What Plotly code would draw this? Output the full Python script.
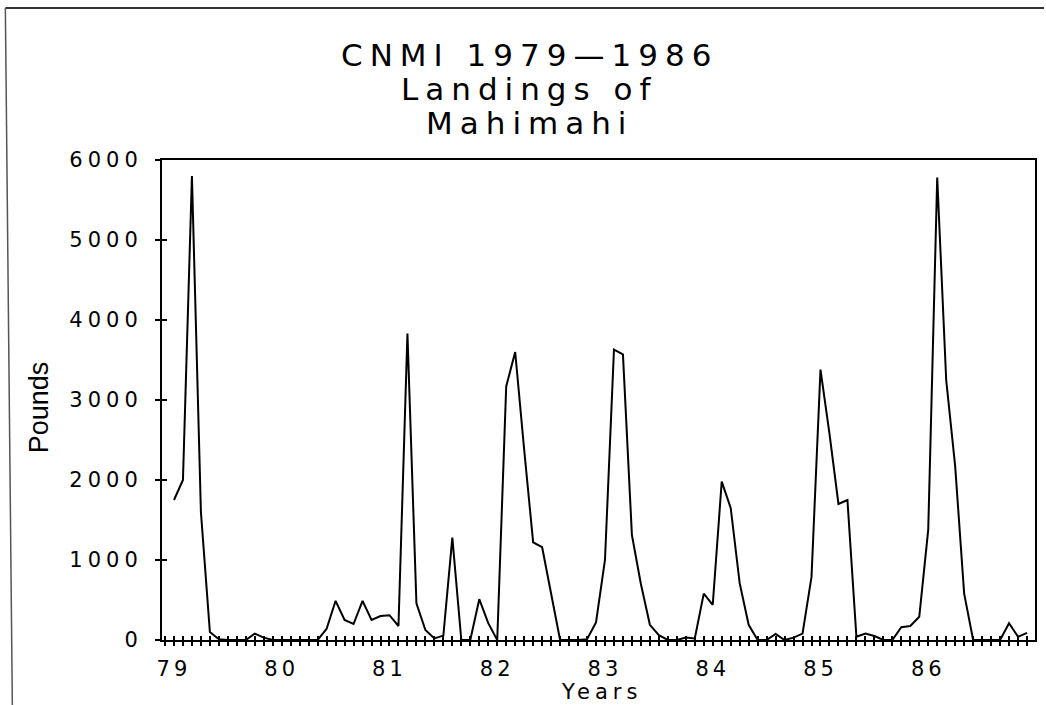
import plotly.graph_objects as go

# ---- data (monthly landings, Jan 1979 .. Dec 1986) ----
start_year = 79
pounds = [
    1750, 2000, 5800, 1600, 100, 10, 0, 0, 0, 80, 30, 0,          # 1979
    0, 0, 0, 0, 0, 140, 490, 250, 200, 490, 250, 300,            # 1980
    310, 175, 3830, 460, 125, 20, 55, 1280, 0, 0, 510, 210,      # 1981
    0, 3170, 3600, 2380, 1220, 1160, 580, 0, 0, 0, 10, 220,      # 1982
    1000, 3630, 3570, 1310, 700, 190, 60, 0, 0, 30, 20, 580,     # 1983
    440, 1980, 1650, 710, 190, 0, 0, 75, 0, 30, 80, 790,         # 1984
    3380, 2580, 1700, 1750, 40, 80, 50, 0, 0, 160, 175, 290,     # 1985
    1380, 5780, 3250, 2170, 580, 0, 0, 0, 0, 210, 40, 90,        # 1986
]
year_ticks = [79, 80, 81, 82, 83, 84, 85, 86]
year_labels = ["79", "80", "81", "82", "83", "84", "85", "86"]
pound_ticks = [0, 1000, 2000, 3000, 4000, 5000, 6000]
pound_labels = ["0", "1000", "2000", "3000", "4000", "5000", "6000"]
title_lines = ["CNMI 1979\u20141986", "Landings of", "Mahimahi"]
x_title = "Years"
y_title = "Pounds"

xs = [start_year + i / 12 for i in range(len(pounds))]

# ---- geometry ----
W, H = 1046, 705
L, R, T, B = 162, 9, 160, 65
PW, PH = W - L - R, H - T - B
X0, X1 = 79 - 1.3333 / 12, 79 + 95.889 / 12
FONT = "DejaVu Sans"


def px2x(px):
    return (px - L) / PW


def py2y(py):
    return (H - B - py) / PH


def spaced(t, s):
    return f'<span style="letter-spacing:{s}px">{t}</span>'


fig = go.Figure()
fig.add_trace(go.Scatter(
    x=xs, y=pounds, mode="lines",
    line=dict(color="black", width=2),
    showlegend=False, hoverinfo="x+y",
))
# companion (invisible) trace to host the inward tick axes
fig.add_trace(go.Scatter(
    x=xs, y=pounds, mode="lines", line=dict(width=0, color="rgba(0,0,0,0)"),
    xaxis="x2", yaxis="y2", showlegend=False, hoverinfo="skip",
))

tickfont = dict(family=FONT, size=21, color="black")
common_x = dict(range=[X0, X1], tickmode="array", tickvals=year_ticks,
                ticklen=4, tickwidth=1.5, tickcolor="black",
                showgrid=False, zeroline=False)
minor_x = dict(dtick=1 / 12, tick0=79, ticklen=4, tickwidth=1.5, tickcolor="black",
               showgrid=False)

fig.update_layout(
    width=W, height=H,
    margin=dict(l=L, r=R, t=T, b=B, pad=0),
    paper_bgcolor="white", plot_bgcolor="white",
    xaxis=dict(**common_x, ticks="outside",
               ticktext=[spaced(t, 4) for t in year_labels],
               tickfont=tickfont, ticklabelstandoff=5,
               minor=dict(**minor_x, ticks="outside"),
               showline=True, linecolor="black", linewidth=2, mirror=True),
    xaxis2=dict(**common_x, ticks="inside", overlaying="x", anchor="y2",
                showticklabels=False, showline=False,
                minor=dict(**minor_x, ticks="inside")),
    yaxis=dict(range=[0, 6000], tickmode="array", tickvals=pound_ticks,
               ticktext=[spaced(t, 5) for t in pound_labels],
               tickfont=tickfont, ticks="outside", ticklen=5, tickwidth=1.5,
               tickcolor="black", ticklabelstandoff=8,
               showgrid=False, zeroline=False,
               showline=True, linecolor="black", linewidth=2, mirror=True),
    yaxis2=dict(range=[0, 6000], tickmode="array", tickvals=pound_ticks,
                ticks="inside", ticklen=5, tickwidth=1.5, tickcolor="black",
                overlaying="y", anchor="x2", side="left",
                showticklabels=False, showgrid=False, zeroline=False,
                showline=False),
)

# title lines
title_y_px = [55, 89, 122.5]
for txt, ypx in zip(title_lines, title_y_px):
    fig.add_annotation(text=spaced(txt, 7), x=px2x(530), y=py2y(ypx),
                       xref="paper", yref="paper", xanchor="center", yanchor="middle",
                       showarrow=False, font=dict(family=FONT, size=31, color="black"))

# axis titles
fig.add_annotation(text=spaced(x_title, 5), x=px2x(603), y=py2y(692),
                   xref="paper", yref="paper", xanchor="center", yanchor="middle",
                   showarrow=False, font=dict(family=FONT, size=21, color="black"))
fig.add_annotation(text=y_title, x=px2x(39), y=py2y(407), textangle=-90,
                   xref="paper", yref="paper", xanchor="center", yanchor="middle",
                   showarrow=False,
                   font=dict(family="Liberation Sans Narrow, Arial Narrow, Liberation Sans",
                             size=27, color="black"))

# scanned page border
fig.add_shape(type="line", xref="paper", yref="paper",
              x0=px2x(5), y0=py2y(8), x1=px2x(1046), y1=py2y(8),
              line=dict(color="#333333", width=2))
fig.add_shape(type="line", xref="paper", yref="paper",
              x0=px2x(5), y0=py2y(8), x1=px2x(12), y1=py2y(705),
              line=dict(color="#555555", width=1.5))

fig.write_html("out.html",
               config={"displayModeBar": False},
               post_script="document.body.style.margin='0';document.body.style.overflow='hidden';")
